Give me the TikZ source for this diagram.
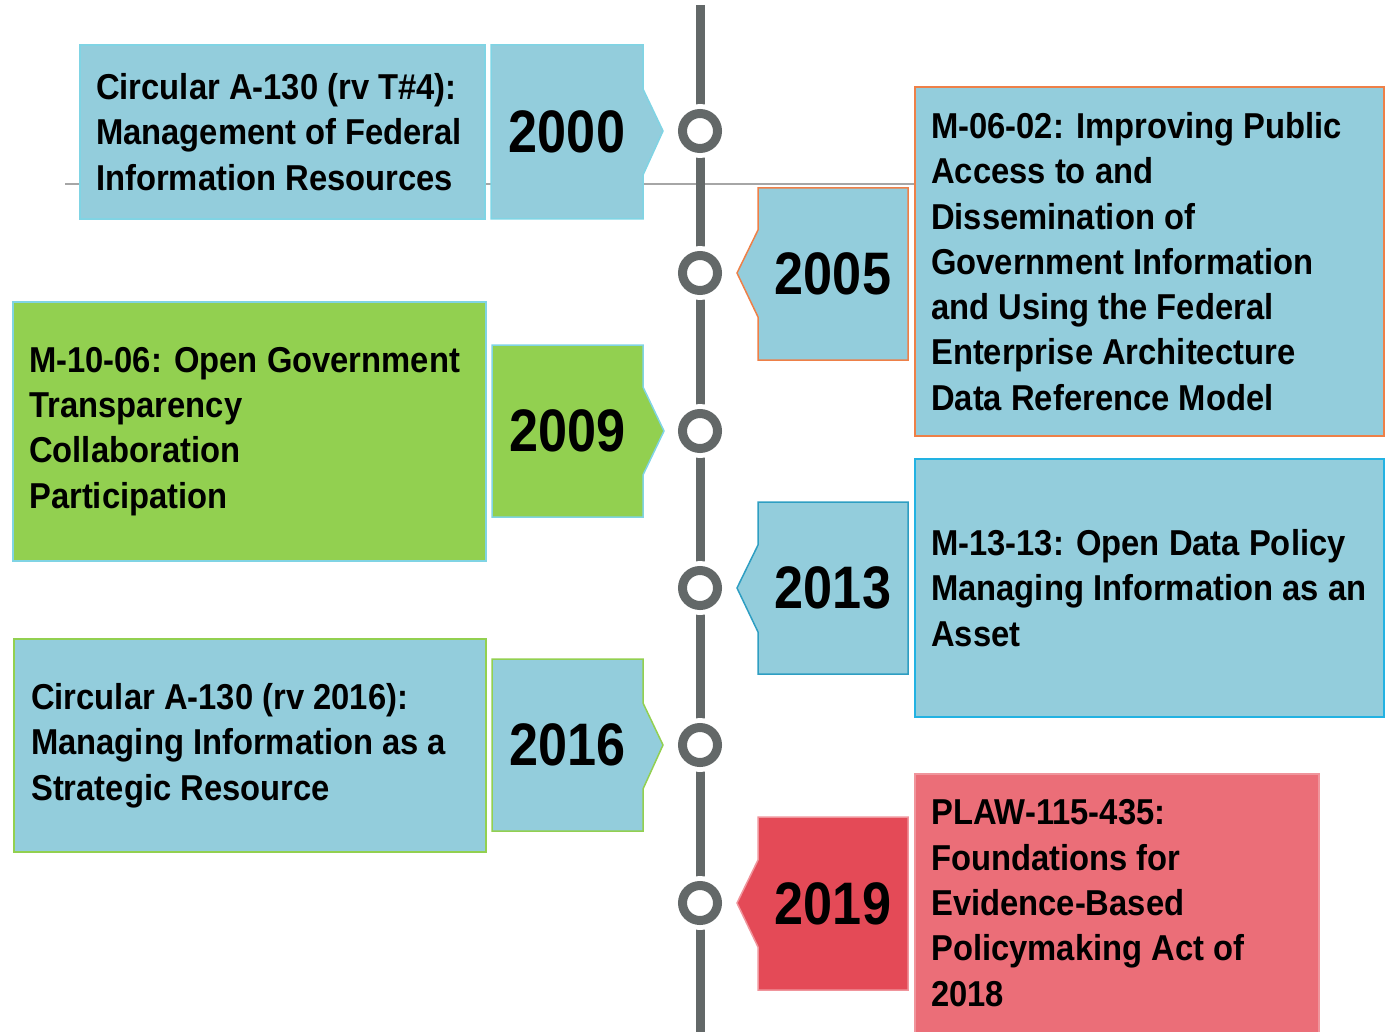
\documentclass[tikz,border=0pt]{standalone}
\usepackage{fontspec}
\setmainfont{Liberation Sans}[FakeStretch=0.91]
\newfontfamily\yearfont{Liberation Sans}[FakeStretch=0.87]
\definecolor{aqua}{HTML}{93CDDC}
\definecolor{aquaedge}{HTML}{80D4E4}
\definecolor{tealedge}{HTML}{2E9EC2}
\definecolor{skyedge}{HTML}{22B2E2}
\definecolor{orangeedge}{HTML}{EE8048}
\definecolor{lime}{HTML}{92D050}
\definecolor{redyear}{HTML}{E44A57}
\definecolor{redtext}{HTML}{EB6E78}
\definecolor{rededge}{HTML}{F0959C}
\definecolor{tlgray}{HTML}{636868}
\definecolor{rulegray}{HTML}{A6A6A6}

\begin{document}
\begin{tikzpicture}[x=1pt, y=-1pt,
    entry/.style={anchor=west, align=left, inner sep=0pt,
      font=\fontsize{36}{45.3}\selectfont\bfseries},
    year/.style={inner sep=0pt, font=\yearfont\fontsize{60}{60}\selectfont\bfseries},
    edge/.style={line width=1.5pt}]
  \useasboundingbox (0,0) rectangle (1389,1032);

  % rule and timeline
  \draw[rulegray, line width=2pt] (65,184) -- (915,184);
  \draw[tlgray, line width=9pt] (700,5) -- (700,1032);
  \foreach \y in {131,273,431,588,745,903} {
    \fill[white] (700,\y) circle (27pt);
    \draw[tlgray, line width=9pt] (700,\y) circle (17.5pt);
  }

  % 2000
  \filldraw[fill=aqua, draw=aquaedge, edge] (80,45) rectangle (485,219);
  \filldraw[fill=aqua, draw=aquaedge, edge] (491,45) -- (643,45) -- (643,89) -- (663,131)
    -- (643,175) -- (643,219) -- (491,219) -- cycle;
  \node[entry] (t2000) at (96,132) {Circular A-130 (rv T\#4):\\Management of Federal\\Information Resources};
  \node[year] (y2000) at (567,132) {2000};

  % 2005
  \filldraw[fill=aqua, draw=orangeedge, edge] (915,87) rectangle (1384,436);
  \filldraw[fill=aqua, draw=orangeedge, edge] (908,188) -- (758,188) -- (758,230) -- (737,273)
    -- (758,317) -- (758,360) -- (908,360) -- cycle;
  \node[entry] (t2005) at (931,261.5) {M-06-02: Improving Public\\Access to and\\Dissemination of\\Government Information\\and Using the Federal\\Enterprise Architecture\\Data Reference Model};
  \node[year] (y2005) at (833,274) {2005};

  % 2009
  \filldraw[fill=lime, draw=aquaedge, edge] (13,302) rectangle (486,561);
  \filldraw[fill=lime, draw=aquaedge, edge] (492,345) -- (643,345) -- (643,387) -- (664,431)
    -- (643,475) -- (643,517) -- (492,517) -- cycle;
  \node[entry] (t2009) at (29,431.5) {M-10-06: Open Government\\Transparency\\Collaboration\\Participation};
  \node[year] (y2009) at (567.5,431) {2009};

  % 2013
  \filldraw[fill=aqua, draw=skyedge, edge] (915,459) rectangle (1384,717);
  \filldraw[fill=aqua, draw=tealedge, edge] (908,502) -- (758,502) -- (758,545) -- (737,588)
    -- (758,632) -- (758,674) -- (908,674) -- cycle;
  \node[entry] (t2013) at (931,588) {M-13-13: Open Data Policy\\Managing Information as an\\Asset};
  \node[year] (y2013) at (833,588) {2013};

  % 2016
  \filldraw[fill=aqua, draw=lime, edge] (14,639) rectangle (486,852);
  \filldraw[fill=aqua, draw=lime, edge] (492,659) -- (643,659) -- (643,703) -- (663,745)
    -- (643,789) -- (643,831) -- (492,831) -- cycle;
  \node[entry] (t2016) at (31,745.5) {Circular A-130 (rv 2016):\\Managing Information as a\\Strategic Resource};
  \node[year] (y2016) at (567.5,745) {2016};

  % 2019
  \filldraw[fill=redtext, draw=rededge, edge] (915,774) rectangle (1319,1034);
  \filldraw[fill=redyear, draw=rededge, edge] (908,817) -- (758,817) -- (758,860) -- (737,903)
    -- (758,947) -- (758,990) -- (908,990) -- cycle;
  \node[entry] (t2019) at (931,903) {PLAW-115-435:\\Foundations for\\Evidence-Based\\Policymaking Act of\\2018};
  \node[year] (y2019) at (833,903.5) {2019};
\end{tikzpicture}
\end{document}
